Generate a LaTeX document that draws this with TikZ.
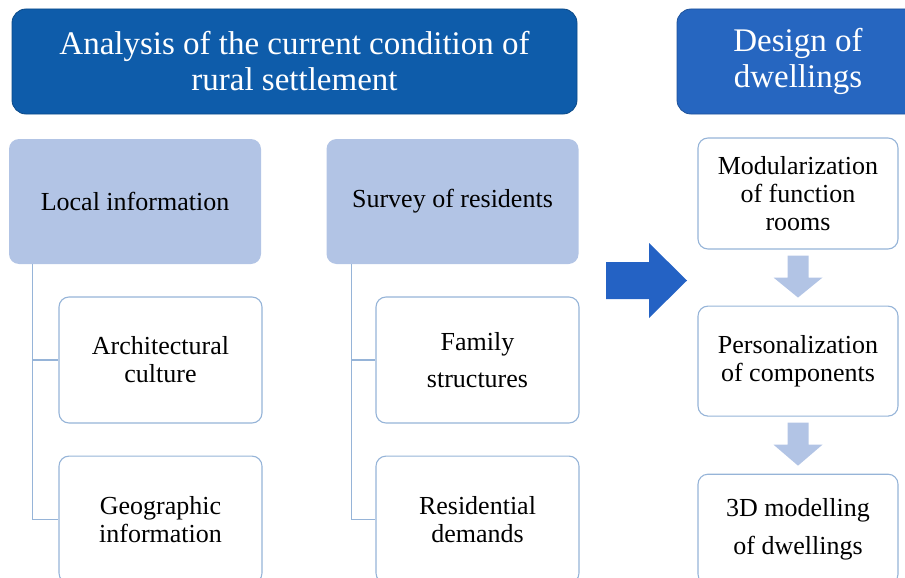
\documentclass[tikz,border=0pt]{standalone}
\usepackage{fontspec}
\setmainfont{Liberation Serif}
\usepackage{xcolor}
\usepackage{tikz}
\usetikzlibrary{
  positioning,
  calc
}
\definecolor{headblue}{RGB}{14, 92, 170}
\definecolor{designblue}{RGB}{38, 102, 192}
\definecolor{arrowblue}{RGB}{36, 98, 196}
\definecolor{paleblue}{RGB}{178, 196, 229}
\definecolor{edgeblue}{RGB}{150, 180, 216}
\tikzset{
  titlebar/.style = {
    rectangle, rounded corners=14pt,
    draw=#1!80!black, line width=0.8pt,
    fill=#1, text=white, minimum height=105pt,
    align=center, font=\fontsize{33}{36}\selectfont
  },
  titlebar/.default = headblue,
  groupbox/.style = {
    rectangle, rounded corners=10pt,
    fill=paleblue, minimum width=252pt, minimum height=125pt,
    align=center, font=\fontsize{26}{28}\selectfont
  },
  itembox/.style = {
    rectangle, rounded corners=10pt,
    draw=edgeblue, line width=1.1pt,
    fill=white, minimum width=#1,
    align=center, font=\fontsize{26}{28}\selectfont
  },
  itembox/.default = 203pt,
  tree/.style = {draw=edgeblue, line width=1.1pt},
  flowarrow/.style = {fill=paleblue},
  bigarrow/.style = {fill=arrowblue},
}

\begin{document}
\begin{tikzpicture}[x=1pt, y=-1pt]

  \useasboundingbox (0,0) rectangle (905,578);
  \clip (0,0) rectangle (905,578);

  % Headings
  \node[titlebar, minimum width=565pt] (analysis) at (294.5,61.5)
    {Analysis of the current condition of\\rural settlement};
  \node[titlebar=designblue, minimum width=242pt] (design) at (798,61.5)
    {Design of\\dwellings};

  % Local information (left)
  \node[groupbox] (local) at (135,201.5) {Local information};
  \node[itembox, minimum height=126pt] (arch) at (160.5,360)
    {Architectural\\culture};
  \node[itembox, minimum height=127pt, below=32pt of arch] (geo)
    {Geographic\\information};

  % Survey of residents (middle)
  \node[groupbox] (survey) at (452.5,201.5) {Survey of residents};
  \node[itembox, minimum height=126pt] (family) at (477.5,360)
    {Family\\[9pt]structures};
  \node[itembox, minimum height=127pt, below=32pt of family] (demand)
    {Residential\\demands};

  % Tree lines
  \draw[tree] ($(local.south west)+(24,0)$) |- (arch.west);
  \draw[tree] ($(local.south west)+(24,0)$) |- (geo.west);
  \draw[tree] ($(survey.south west)+(25,0)$) |- (family.west);
  \draw[tree] ($(survey.south west)+(25,0)$) |- (demand.west);

  % Design steps (right)
  \node[itembox=200pt, minimum height=111pt] (modular) at (798,193.5)
    {Modularization\\of function\\rooms};
  \node[itembox=200pt, minimum height=110pt, below=56pt of modular] (person)
    {Personalization\\of components};
  \node[itembox=200pt, minimum height=110pt, below=57pt of person] (model)
    {3D modelling\\[10pt]of dwellings};

  % Arrows
  \foreach \from/\to in {modular/person, person/model}
    \fill[flowarrow] ($(\from.south)+(-10.5,6)$) -- ++(21,0) -- ++(0,22)
      -- ++(14,0) -- ($(\to.north)+(0,-8)$) -- ($(\from.south)+(-24.5,28)$)
      -- ++(14,0) -- cycle;
  \fill[bigarrow] (606,262) -- (649,262) -- (649,243) -- (687,280.5)
    -- (649,318) -- (649,299) -- (606,299) -- cycle;

\end{tikzpicture}
\end{document}
